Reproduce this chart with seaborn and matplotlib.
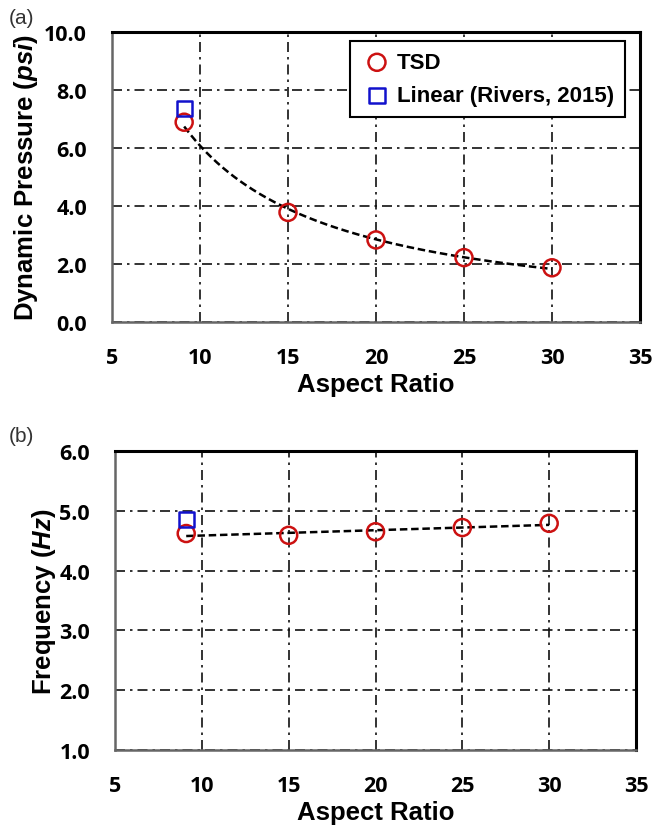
import numpy as np
import pandas as pd
import seaborn as sns
import matplotlib.pyplot as plt

# Values.
aspect = [9.1, 15.0, 20.0, 25.0, 30.0]
pressure_tsd = [6.89, 3.78, 2.83, 2.22, 1.87]
freq_tsd = [4.62, 4.59, 4.65, 4.72, 4.79]
aspect_lin = [9.1]
pressure_lin = [7.36]
freq_lin = [4.86]

sns.set_style('white')
plt.rcParams['font.family'] = ['Liberation Sans', 'DejaVu Sans']
plt.rcParams['text.color'] = 'black'
plt.rcParams['axes.labelcolor'] = 'black'
plt.rcParams['xtick.color'] = 'black'
plt.rcParams['ytick.color'] = 'black'
plt.rcParams['mathtext.fontset'] = 'custom'
plt.rcParams['mathtext.it'] = 'Liberation Sans:bold:italic'
plt.rcParams['mathtext.rm'] = 'Liberation Sans:bold'

tsd = pd.DataFrame({'Aspect Ratio': aspect, 'Pressure': pressure_tsd, 'Frequency': freq_tsd})
lin = pd.DataFrame({'Aspect Ratio': aspect_lin, 'Pressure': pressure_lin, 'Frequency': freq_lin})

# Trendlines fitted to the TSD points (power for pressure, linear for frequency).
xs = np.linspace(min(aspect), max(aspect), 200)
b, ln_a = np.polyfit(np.log(aspect), np.log(pressure_tsd), 1)
trend_p = pd.DataFrame({'x': xs, 'y': np.exp(ln_a) * xs ** b})
m, c = np.polyfit(aspect, freq_tsd, 1)
trend_f = pd.DataFrame({'x': xs, 'y': m * xs + c})

fig = plt.figure(figsize=(6.52, 8.28), dpi=100)
ax1 = fig.add_axes([0.1718, 0.6099, 0.8098, 0.3502])
ax2 = fig.add_axes([0.1764, 0.0930, 0.7991, 0.3611])

grid_ls = (0, (6, 3, 1.5, 3))
red = '#cc1111'
blue = '#1111cc'


def style_axes(ax, ylim, yticks, ylabel, ypad):
    ax.set_xlim(5, 35)
    ax.set_ylim(*ylim)
    ax.set_xticks(range(5, 36, 5))
    ax.set_yticks(yticks)
    ax.set_yticklabels([f'{v:.1f}' for v in yticks])
    ax.grid(True, color='#111111', linestyle=grid_ls, linewidth=1.2)
    ax.tick_params(length=0, labelsize=15.5, pad=18)
    for lbl in ax.get_xticklabels() + ax.get_yticklabels():
        lbl.set_fontfamily('Open Sans')
        lbl.set_fontweight('bold')
    ax.set_xlabel('Aspect Ratio', fontsize=18.5, fontweight='bold', labelpad=3)
    ax.set_ylabel(ylabel, fontsize=18.5, fontweight='bold', labelpad=ypad)
    for side in ['top', 'right']:
        ax.spines[side].set_color('black')
        ax.spines[side].set_linewidth(2.2)
    for side in ['left', 'bottom']:
        ax.spines[side].set_color('#666666')
        ax.spines[side].set_linewidth(1.8)
    ax.set_axisbelow(True)


# (a) Dynamic pressure
sns.lineplot(data=trend_p, x='x', y='y', ax=ax1, color='black', linewidth=1.8,
             linestyle=(0, (3, 1.5)), legend=False, zorder=2)
sns.scatterplot(data=tsd, x='Aspect Ratio', y='Pressure', ax=ax1, marker='o', s=150,
                facecolor='none', edgecolor=red, linewidth=1.8, label='TSD', zorder=3)
sns.scatterplot(data=lin, x='Aspect Ratio', y='Pressure', ax=ax1, marker='s', s=120,
                facecolor='none', edgecolor=blue, linewidth=1.8,
                label='Linear (Rivers, 2015)', zorder=3)
style_axes(ax1, (0, 10), np.arange(0, 10.1, 2), r'Dynamic Pressure ($\mathit{psi}$)', 3)
leg = ax1.legend(loc='upper right', bbox_to_anchor=(0.972, 0.969), borderaxespad=0,
                 fancybox=False, framealpha=1, edgecolor='black',
                 prop={'family': 'Liberation Sans', 'weight': 'bold', 'size': 16},
                 handletextpad=0.2, handlelength=1.4, borderpad=0.5, labelspacing=0.55)
leg.get_frame().set_linewidth(1.5)

# (b) Frequency
sns.lineplot(data=trend_f, x='x', y='y', ax=ax2, color='black', linewidth=1.8,
             linestyle=(0, (3, 1.5)), legend=False, zorder=2)
sns.scatterplot(data=tsd, x='Aspect Ratio', y='Frequency', ax=ax2, marker='o', s=150,
                facecolor='none', edgecolor=red, linewidth=1.8, legend=False, zorder=3)
sns.scatterplot(data=lin, x='Aspect Ratio', y='Frequency', ax=ax2, marker='s', s=120,
                facecolor='none', edgecolor=blue, linewidth=1.8, legend=False, zorder=3)
style_axes(ax2, (1, 6), np.arange(1, 6.1, 1), r'Frequency ($\mathit{Hz}$)', 1)

fig.text(9 / 652, 1 - 18 / 828, '(a)', fontsize=15, color='#333333',
         family='Liberation Sans', va='center')
fig.text(9 / 652, 1 - 437 / 828, '(b)', fontsize=15, color='#333333',
         family='Liberation Sans', va='center')

fig.savefig('out.png', dpi=100)
